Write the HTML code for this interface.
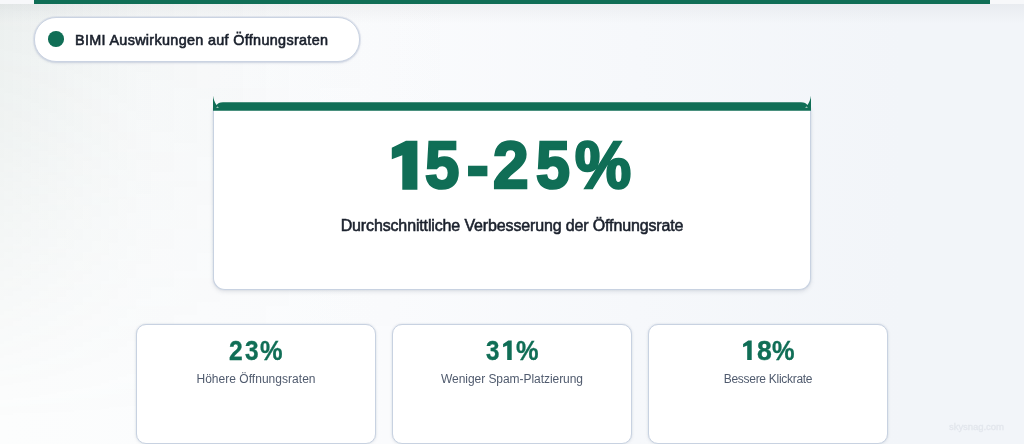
<!DOCTYPE html>
<html lang="de">
<head>
<meta charset="utf-8">
<title>BIMI Auswirkungen auf Öffnungsraten</title>
<style>
*{box-sizing:border-box;margin:0;padding:0}
html,body{width:1024px;height:444px;overflow:hidden}
body{position:relative;font-family:"Liberation Sans",sans-serif;background:linear-gradient(90deg,#fcfdfd 0%,#fafbfd 38%,#f6f8fb 62%,#f2f5f9 88%,#f2f5f9 100%);color:#1a202c}
.topshade{position:absolute;left:0;top:4px;width:1024px;height:20px;background:linear-gradient(to bottom,rgba(60,70,80,.055),rgba(60,70,80,.03) 40%,rgba(60,70,80,0))}
.lefttint{position:absolute;left:0;top:0;width:460px;height:444px;background:linear-gradient(90deg,rgba(100,128,120,.105) 0,rgba(100,128,120,.045) 140px,rgba(100,128,120,.015) 300px,rgba(100,128,120,0) 460px);-webkit-mask-image:linear-gradient(to bottom,#000 0,rgba(0,0,0,.75) 30%,rgba(0,0,0,0) 95%);mask-image:linear-gradient(to bottom,#000 0,rgba(0,0,0,.75) 30%,rgba(0,0,0,0) 95%)}
.toplite{position:absolute;left:0;top:0;width:1024px;height:4px;background:#f7f8fa}
.bar{position:absolute;left:34px;top:0;width:956px;height:4px;background:#106e56}
.pill{position:absolute;left:34px;top:17px;width:326px;height:45px;border:1px solid #cad3e2;border-radius:22px;background:#fff;box-shadow:0 0 0 1px rgba(203,211,226,.4),0 1px 2.5px rgba(110,125,160,.28)}
.dot{position:absolute;left:48.2px;top:31.2px;width:15.7px;height:15.7px;border-radius:50%;background:#106e56}
.ptxt,.sub,.stat .l,.wm{will-change:transform}
.ptxt{position:absolute;left:74.6px;top:30.9px;font-size:14.4px;font-weight:400;-webkit-text-stroke:.6px #1a202c;letter-spacing:.32px;line-height:18px;white-space:nowrap;color:#1a202c}
.card{position:absolute;left:213px;top:108px;width:598px;height:182px;border:1px solid #c8d2e1;border-top:0;border-radius:0 0 12px 12px;background:#fff;box-shadow:0 0 2px rgba(150,165,190,.35),0 2px 4px rgba(70,80,100,.13)}
.band{position:absolute;left:209px;top:94px;width:606px;height:20px}
.big{position:absolute;left:0;top:125px;width:1024px;height:80px;will-change:transform}
.big span{position:absolute;top:0;font-size:66px;line-height:80px;font-weight:700;color:#106e56;-webkit-text-stroke:2.6px #106e56;white-space:nowrap;transform-origin:0 0}
.big svg{position:absolute;left:388px;top:12px;width:34px;height:56px}
.sub{position:absolute;left:0;width:1024px;top:216px;text-align:center;font-size:16px;line-height:20px;font-weight:400;-webkit-text-stroke:.55px #1a202c;letter-spacing:-.14px;color:#1a202c;white-space:nowrap}
.stat{position:absolute;top:324px;width:240px;height:120px;border:1px solid #c8d2e1;border-radius:10px;background:#fff;box-shadow:0 0 2px rgba(150,165,190,.35),0 1px 4px rgba(40,50,80,.05)}
.stat .n{position:absolute;left:0;width:100%;top:10px;height:32px;will-change:transform}
.stat .n span{position:absolute;top:0;font-size:28px;line-height:32px;font-weight:700;color:#106e56;-webkit-text-stroke:.35px #106e56;transform-origin:0 0;white-space:nowrap}
.stat .n svg.one{position:absolute;top:5px;width:11px;height:21px}
.stat .l{position:absolute;left:0;width:100%;top:46px;text-align:center;font-size:12px;line-height:16px;color:#505b6e;white-space:nowrap}
.wm{position:absolute;left:948.6px;top:420.3px;font-size:9.6px;line-height:14px;font-weight:400;letter-spacing:-.1px;color:#e2e6ec;-webkit-text-stroke:.3px #e2e6ec;white-space:nowrap;filter:blur(.5px)}
</style>
</head>
<body>
<div class="lefttint"></div>
<div class="topshade"></div>
<div class="toplite"></div>
<div class="bar"></div>
<div class="pill"></div>
<div class="dot"></div>
<div class="ptxt">BIMI Auswirkungen auf Öffnungsraten</div>
<div class="card"></div>
<svg class="band" viewBox="0 0 606 20">
<path d="M4 16.8 L4 1.8 C4.5 5 5.5 8.2 7.5 11 C8.7 9.5 10.6 8.3 14 8.3 L592 8.3 C595.4 8.3 597.3 9.5 598.5 11 C600.5 8.2 601.5 5 602 1.8 L602 16.8 Z" fill="#106e56"/>
<path d="M8.5 12.2 L7.1 14 L9.9 14 Z M597.5 12.2 L596.1 14 L598.9 14 Z" fill="#cfe0da" opacity=".75"/>
</svg>
<div class="big"><svg viewBox="0 0 34 56"><path d="M18 3.7 L29.4 3.7 L29.4 52.7 L14.3 52.7 L14.3 18.3 L3.8 22.3 L3.8 10.8 Z" fill="#106e56"/></svg><span id="g1" style="left:425.3px;transform:scaleX(.935)">5</span><span id="g2" style="left:466.7px">-</span><span id="g3" style="left:493.2px;transform:scaleX(.97)">2</span><span id="g4" style="left:535.5px;transform:scaleX(.925)">5</span><span id="g5" style="left:575px;transform:scaleX(.955)">%</span></div>
<div class="sub">Durchschnittliche Verbesserung der Öffnungsrate</div>
<div class="stat" style="left:136px"><div class="n"><span style="left:91.90px;transform:scaleX(0.880)">2</span><span style="left:107.65px;transform:scaleX(0.873)">3</span><span style="left:122.69px;transform:scaleX(0.905)">%</span></div><div class="l" style="letter-spacing:.03px">Höhere Öffnungsraten</div></div>
<div class="stat" style="left:392px"><div class="n"><span style="left:92.7px;transform:scaleX(0.863)">3</span><svg class="one" style="left:109px" viewBox="0 0 11 21"><path transform="translate(.5 .6)" d="M5.7 0 L9.2 0 L9.2 19.5 L4.7 19.5 L4.7 4.9 L.6 6.7 L.6 3.4 Z" fill="#106e56"/></svg><span style="left:122.69px;transform:scaleX(0.905)">%</span></div><div class="l" style="letter-spacing:-.05px">Weniger Spam-Platzierung</div></div>
<div class="stat" style="left:648px"><div class="n"><svg class="one" style="left:93px" viewBox="0 0 11 21"><path transform="translate(.5 .6)" d="M5.7 0 L9.2 0 L9.2 19.5 L4.7 19.5 L4.7 4.9 L.6 6.7 L.6 3.4 Z" fill="#106e56"/></svg><span style="left:108.2px;transform:scaleX(.95)">8</span><span style="left:122.69px;transform:scaleX(.905)">%</span></div><div class="l" style="letter-spacing:-.29px">Bessere Klickrate</div></div>
<div class="wm">skysnag.com</div>
</body>
</html>
